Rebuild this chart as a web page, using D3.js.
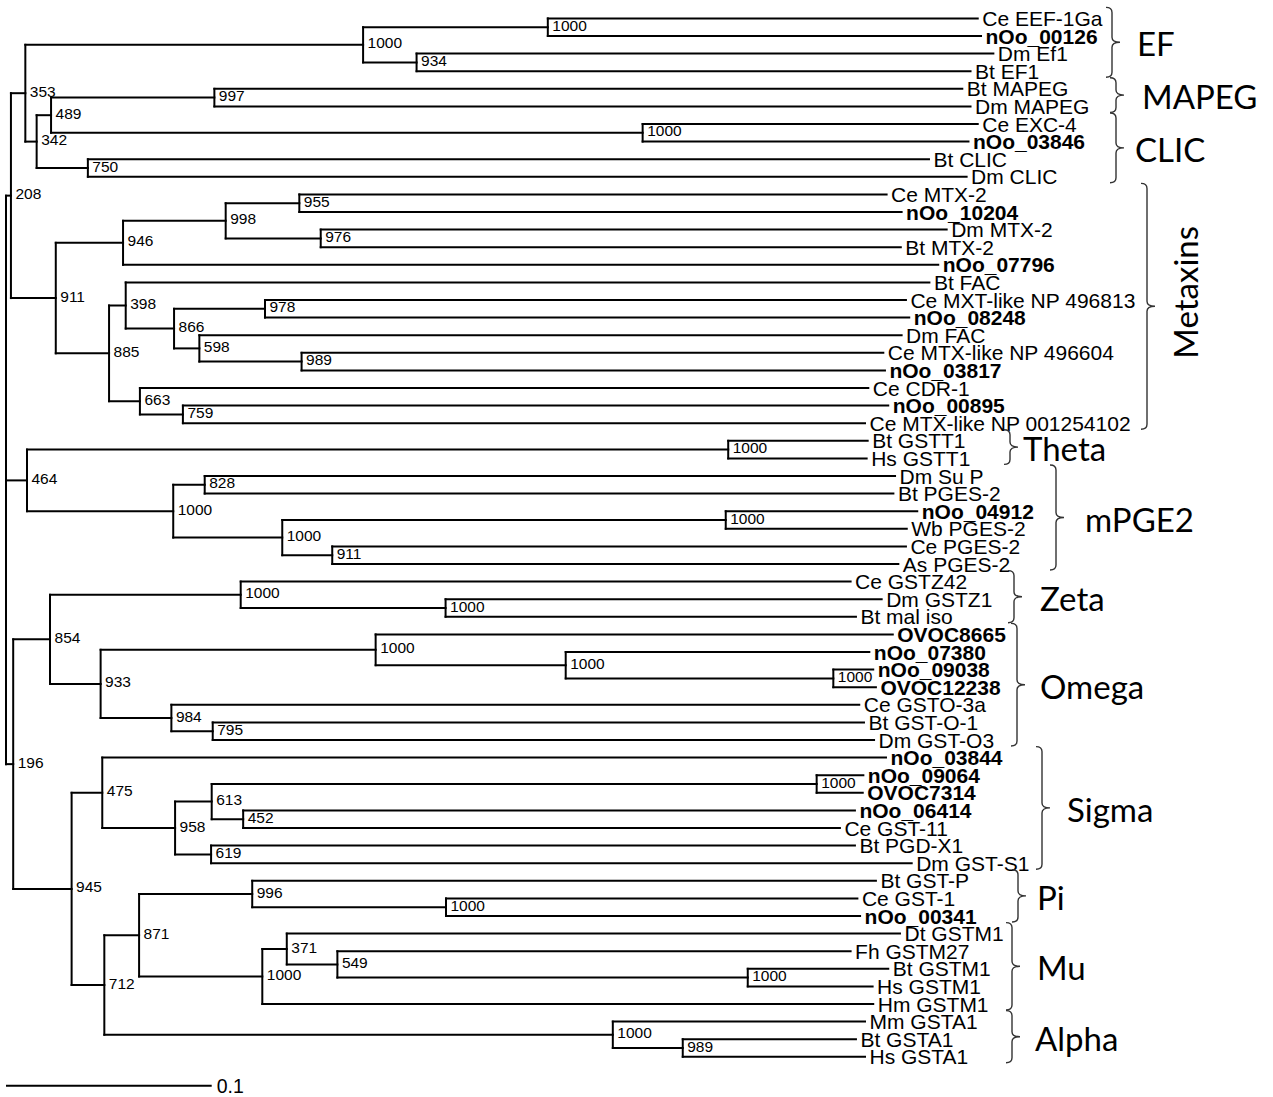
<!DOCTYPE html>
<html><head><meta charset="utf-8">
<script src="https://cdn.jsdelivr.net/npm/d3@7/dist/d3.min.js"></script>
<style>body{margin:0;background:#fff}svg{display:block}</style>
</head><body>
<svg id="chart" width="1273" height="1097"></svg>
<script>
// Taxa, top to bottom
const leafNames = [
"Ce EEF-1Ga","nOo_00126","Dm Ef1","Bt EF1","Bt MAPEG","Dm MAPEG","Ce EXC-4","nOo_03846","Bt CLIC","Dm CLIC",
"Ce MTX-2","nOo_10204","Dm MTX-2","Bt MTX-2","nOo_07796","Bt FAC","Ce MXT-like NP 496813","nOo_08248","Dm FAC",
"Ce MTX-like NP 496604","nOo_03817","Ce CDR-1","nOo_00895","Ce MTX-like NP 001254102","Bt GSTT1","Hs GSTT1",
"Dm Su P","Bt PGES-2","nOo_04912","Wb PGES-2","Ce PGES-2","As PGES-2","Ce GSTZ42","Dm GSTZ1","Bt mal iso",
"OVOC8665","nOo_07380","nOo_09038","OVOC12238","Ce GSTO-3a","Bt GST-O-1","Dm GST-O3","nOo_03844","nOo_09064",
"OVOC7314","nOo_06414","Ce GST-11","Bt PGD-X1","Dm GST-S1","Bt GST-P","Ce GST-1","nOo_00341","Dt GSTM1",
"Fh GSTM27","Bt GSTM1","Hs GSTM1","Hm GSTM1","Mm GSTA1","Bt GSTA1","Hs GSTA1"];

// Sequences from this study (shown in bold)
const newSequences = ["nOo_00126","nOo_03846","nOo_10204","nOo_07796","nOo_08248","nOo_03817","nOo_00895",
"nOo_04912","OVOC8665","nOo_07380","nOo_09038","OVOC12238","nOo_03844","nOo_09064","OVOC7314","nOo_06414","nOo_00341"];

// Tree: [node, parent, distance from root (subst./site), bootstrap support]
const treeNodes = [
["root","",0,null],
["n208","root",0.0024,208],
["n353","n208",0.0094,353],
["nEF","n353",0.1736,1000],
["nEF1","nEF",0.2634,1000],
["Ce EEF-1Ga","nEF1",0.4724,null],
["nOo_00126","nEF1",0.4740,null],
["n934","nEF",0.1996,934],
["Dm Ef1","n934",0.4800,null],
["Bt EF1","n934",0.4689,null],
["n342","n353",0.0149,342],
["n489","n342",0.0219,489],
["n997","n489",0.1013,997],
["Bt MAPEG","n997",0.4649,null],
["Dm MAPEG","n997",0.4689,null],
["nCLIC","n489",0.3095,1000],
["Ce EXC-4","nCLIC",0.4724,null],
["nOo_03846","nCLIC",0.4679,null],
["n750","n342",0.0398,750],
["Bt CLIC","n750",0.4487,null],
["Dm CLIC","n750",0.4670,null],
["n911","n208",0.0242,911],
["n946","n911",0.0569,946],
["n998","n946",0.1068,998],
["n955","n998",0.1426,955],
["Ce MTX-2","n955",0.4281,null],
["nOo_10204","n955",0.4354,null],
["n976","n998",0.1530,976],
["Dm MTX-2","n976",0.4573,null],
["Bt MTX-2","n976",0.4350,null],
["nOo_07796","n946",0.4532,null],
["n885","n911",0.0501,885],
["n398","n885",0.0582,398],
["Bt FAC","n398",0.4489,null],
["n866","n398",0.0817,866],
["n978","n866",0.1259,978],
["Ce MXT-like NP 496813","n978",0.4375,null],
["nOo_08248","n978",0.4391,null],
["n598","n866",0.0940,598],
["Dm FAC","n598",0.4354,null],
["n989a","n598",0.1437,989],
["Ce MTX-like NP 496604","n989a",0.4265,null],
["nOo_03817","n989a",0.4273,null],
["n663","n885",0.0651,663],
["Ce CDR-1","n663",0.4192,null],
["n759","n663",0.0860,759],
["nOo_00895","n759",0.4289,null],
["Ce MTX-like NP 001254102","n759",0.4176,null],
["n464","root",0.0102,464],
["nTheta","n464",0.3511,1000],
["Bt GSTT1","nTheta",0.4189,null],
["Hs GSTT1","nTheta",0.4184,null],
["nPGE","n464",0.0813,1000],
["n828","nPGE",0.0966,828],
["Dm Su P","n828",0.4322,null],
["Bt PGES-2","n828",0.4314,null],
["nPGE2","nPGE",0.1343,1000],
["nPGE3","nPGE2",0.3499,1000],
["nOo_04912","nPGE3",0.4430,null],
["Wb PGES-2","nPGE3",0.4379,null],
["n911b","nPGE2",0.1586,911],
["Ce PGES-2","n911b",0.4375,null],
["As PGES-2","n911b",0.4338,null],
["n196","root",0.0035,196],
["n854","n196",0.0214,854],
["nZeta","n854",0.1141,1000],
["Ce GSTZ42","nZeta",0.4106,null],
["nZeta2","nZeta",0.2137,1000],
["Dm GSTZ1","nZeta2",0.4257,null],
["Bt mal iso","nZeta2",0.4132,null],
["n933","n854",0.0460,933],
["nOm1","n933",0.1797,1000],
["OVOC8665","nOm1",0.4311,null],
["nOm2","nOm1",0.2721,1000],
["nOo_07380","nOm2",0.4197,null],
["nOm3","nOm2",0.4022,1000],
["nOo_09038","nOm3",0.4216,null],
["OVOC12238","nOm3",0.4229,null],
["n984","n933",0.0804,984],
["Ce GSTO-3a","n984",0.4148,null],
["n795","n984",0.1005,795],
["Bt GST-O-1","n795",0.4171,null],
["Dm GST-O3","n795",0.4220,null],
["n945","n196",0.0319,945],
["n475","n945",0.0468,475],
["nOo_03844","n475",0.4278,null],
["n958","n475",0.0822,958],
["n613","n958",0.1000,613],
["nSig1","n613",0.3941,1000],
["nOo_09064","nSig1",0.4168,null],
["OVOC7314","nSig1",0.4165,null],
["n452","n613",0.1153,452],
["nOo_06414","n452",0.4127,null],
["Ce GST-11","n452",0.4054,null],
["n619","n958",0.0997,619],
["Bt PGD-X1","n619",0.4127,null],
["Dm GST-S1","n619",0.4403,null],
["n712","n945",0.0478,712],
["n871","n712",0.0647,871],
["n996","n871",0.1197,996],
["Bt GST-P","n996",0.4229,null],
["nPi","n996",0.2139,1000],
["Ce GST-1","nPi",0.4139,null],
["nOo_00341","nPi",0.4152,null],
["nMu","n871",0.1246,1000],
["n371","nMu",0.1365,371],
["Dt GSTM1","n371",0.4346,null],
["n549","n371",0.1611,549],
["Fh GSTM27","n549",0.4106,null],
["nMu2","n549",0.3606,1000],
["Bt GSTM1","nMu2",0.4289,null],
["Hs GSTM1","nMu2",0.4213,null],
["Hm GSTM1","nMu",0.4216,null],
["nAlpha","n712",0.2950,1000],
["Mm GSTA1","nAlpha",0.4176,null],
["n989b","nAlpha",0.3290,989],
["Bt GSTA1","n989b",0.4132,null],
["Hs GSTA1","n989b",0.4176,null]
];

// Families (brackets on the right): first and last taxon of each
const groupNames = ["EF","MAPEG","CLIC","Metaxins","Theta","mPGE2","Zeta","Omega","Sigma","Pi","Mu","Alpha"];
const groupFirst = ["Ce EEF-1Ga","Bt MAPEG","Ce EXC-4","Ce MTX-2","Bt GSTT1","Dm Su P","Ce GSTZ42","OVOC8665","nOo_03844","Bt GST-P","Dt GSTM1","Mm GSTA1"];
const groupLast  = ["Bt EF1","Dm MAPEG","Dm CLIC","Ce MTX-like NP 001254102","Hs GSTT1","As PGES-2","Bt mal iso","Dm GST-O3","Dm GST-S1","nOo_00341","Hm GSTM1","Hs GSTA1"];

const scaleBarValue = 0.1;
const scaleBarLabel = "0.1";

// ---- layout (positions/styles only) ----
const braceX = [1112,1116,1116,1147,1010,1056,1014,1017,1042,1018,1012,1012];
const labelX = [1137,1142,1135,1198,1023,1085,1040,1040,1067,1037,1037,1035];
const labelRotated = ["Metaxins"];

const svg = d3.select("#chart");
const x = d3.scaleLinear().domain([0, scaleBarValue]).range([6, 211.7]);
const y = d3.scalePoint().domain(leafNames).range([18.4, 1056.8]);

const root = d3.stratify().id(d => d[0]).parentId(d => d[1] || null)(treeNodes);
root.eachAfter(n => {
  n.px = x(n.data[2]);
  n.py = n.children ? (n.children[0].py + n.children[n.children.length - 1].py) / 2 : y(n.id);
});

const g = svg.append("g");
const LABEL_FONT = "'Liberation Sans', Arial, Helvetica, sans-serif";

// horizontal branches
g.selectAll("path.h").data(root.descendants().filter(n => n.parent))
  .join("path").attr("class","h")
  .attr("d", n => `M${n.parent.px},${n.py}H${n.px}`)
  .attr("stroke","#000").attr("stroke-width",2).attr("fill","none").attr("stroke-linecap","square");
// vertical connectors
g.selectAll("path.v").data(root.descendants().filter(n => n.children))
  .join("path").attr("class","v")
  .attr("d", n => `M${n.px},${n.children[0].py}V${n.children[n.children.length-1].py}`)
  .attr("stroke","#000").attr("stroke-width",2).attr("fill","none").attr("stroke-linecap","square");

// bootstrap values
g.selectAll("text.bs").data(root.descendants().filter(n => n.children && n.data[3] != null))
  .join("text").attr("class","bs")
  .attr("x", n => n.px + 4.5).attr("y", n => n.py + 3.5)
  .attr("font-family", LABEL_FONT).attr("font-size", 15.5).attr("fill","#000")
  .text(n => n.data[3]);

// taxon labels
g.selectAll("text.leaf").data(root.leaves())
  .join("text").attr("class","leaf")
  .attr("x", n => n.px + 4.5).attr("y", n => n.py + 7.5)
  .attr("font-family", LABEL_FONT).attr("font-size", 21)
  .attr("font-weight", n => newSequences.includes(n.id) ? "bold" : "normal")
  .attr("fill","#000")
  .text(n => n.id);

// brackets and family names
function brace(bx, y0, y1) {
  const ym = (y0 + y1) / 2, h = 6, t = 8, r = 5;
  return `M${bx-h},${y0}Q${bx},${y0} ${bx},${y0+r}V${ym-r}Q${bx},${ym} ${bx+t},${ym}` +
         `Q${bx},${ym} ${bx},${ym+r}V${y1-r}Q${bx},${y1} ${bx-h},${y1}`;
}
groupNames.forEach((name, i) => {
  const y0 = y(groupFirst[i]) - 11, y1 = y(groupLast[i]) + 6, ym = (y0 + y1) / 2;
  g.append("path").attr("d", brace(braceX[i], y0, y1))
    .attr("fill","none").attr("stroke","#333").attr("stroke-width",1.4);
  const t = g.append("text").attr("font-family","Lato, 'Open Sans', sans-serif")
    .attr("font-size",33).attr("fill","#000").text(name);
  if (labelRotated.includes(name)) {
    t.attr("text-anchor","middle").attr("transform", `translate(${labelX[i]},${ym - 14}) rotate(-90)`);
  } else {
    t.attr("x", labelX[i]).attr("y", ym + 14);
  }
});

// scale bar
g.append("path").attr("d", `M${x(0)},1085.7H${x(scaleBarValue)}`)
  .attr("stroke","#000").attr("stroke-width",2);
g.append("text").attr("x", x(scaleBarValue) + 5).attr("y", 1092.7)
  .attr("font-family", LABEL_FONT).attr("font-size", 19.5).text(scaleBarLabel);
</script>
</body></html>
